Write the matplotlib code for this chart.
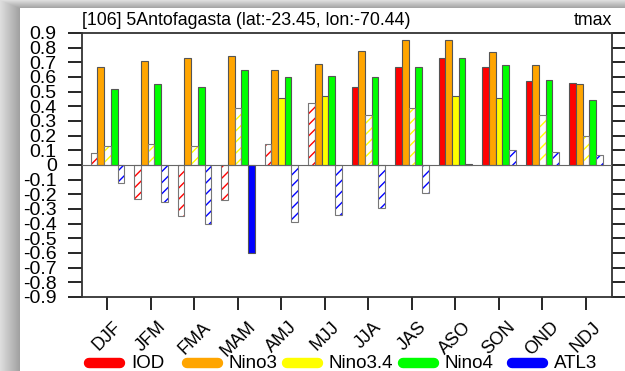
import matplotlib
matplotlib.use("Agg")
import matplotlib.pyplot as plt
import matplotlib.transforms as mtransforms
from matplotlib.lines import Line2D
import numpy as np

plt.rcParams['font.family'] = ['Liberation Sans', 'DejaVu Sans']
plt.rcParams['hatch.linewidth'] = 1.0

seasons = ['DJF', 'JFM', 'FMA', 'MAM', 'AMJ', 'MJJ', 'JJA', 'JAS', 'ASO', 'SON', 'OND', 'NDJ']
names = ['IOD', 'Nino3', 'Nino3.4', 'Nino4', 'ATL3']
colors = ['#ff0000', '#ffa500', '#ffff00', '#00ff00', '#0000ff']

# correlation values
iod = [0.08, -0.23, -0.35, -0.24, 0.14, 0.42, 0.53, 0.67, 0.73, 0.67, 0.57, 0.56]
nino3 = [0.67, 0.71, 0.73, 0.74, 0.65, 0.69, 0.78, 0.85, 0.85, 0.77, 0.68, 0.55]
nino34 = [0.13, 0.14, 0.13, 0.39, 0.46, 0.47, 0.34, 0.39, 0.47, 0.46, 0.34, 0.20]
nino4 = [0.52, 0.55, 0.53, 0.65, 0.60, 0.61, 0.60, 0.67, 0.73, 0.68, 0.58, 0.44]
atl3 = [-0.12, -0.25, -0.40, -0.60, -0.39, -0.34, -0.29, -0.19, 0.01, 0.10, 0.09, 0.07]

# 1 = significant (solid), 0 = not significant (hatched)
sig_iod = [0, 0, 0, 0, 0, 0, 1, 1, 1, 1, 1, 1]
sig_nino3 = [1] * 12
sig_nino34 = [0, 0, 0, 0, 1, 1, 0, 0, 1, 1, 0, 0]
sig_nino4 = [1] * 12
sig_atl3 = [0, 0, 0, 1, 0, 0, 0, 0, 1, 0, 0, 0]

series = [iod, nino3, nino34, nino4, atl3]
sigs = [sig_iod, sig_nino3, sig_nino34, sig_nino4, sig_atl3]

yticks = np.round(np.arange(-0.9, 0.91, 0.1), 1)

fig = plt.figure(figsize=(6.25, 3.71), dpi=100)

# paper drop shadow on left and top
H, W = 371, 625
xx, yy = np.meshgrid(np.arange(W), np.arange(H))
dl = np.clip((20 - xx) / 20.0, 0, 1)
dt = np.clip((8 - yy) / 8.0, 0, 1)
inside = (xx >= 20) & (yy >= 8)
shade = np.where(inside, 1.0, 0.62 + 0.25 * np.maximum(dl, dt))
bg = np.ones((H, W, 3)) * shade[..., None]
fig.figimage(bg, xo=0, yo=0, origin='upper', zorder=-10)

ax = fig.add_axes([0.1307, 0.1995, 0.848, 0.7116])
ax.set_facecolor('white')

x = np.arange(1, 13)
w = 0.154
for k in range(5):
    pos = x + (k - 2) * w
    vals = np.array(series[k])
    sg = np.array(sigs[k]) == 1
    ax.bar(pos[sg], vals[sg], w, color=colors[k], edgecolor='#555555', linewidth=0.8, zorder=3)
    ax.bar(pos[~sg], vals[~sg], w, facecolor='white', edgecolor=colors[k], hatch='///',
           linewidth=0, zorder=3)
    ax.bar(pos[~sg], vals[~sg], w, fill=False, edgecolor='#777777', linewidth=0.8, zorder=4)

ax.axhline(0, color='#666666', lw=0.8, zorder=5)

ax.set_xlim(0.407, 12.593)
ax.set_ylim(-0.9, 0.9)
ax.set_xticks(x)
ax.set_xticklabels(seasons, rotation=45, ha='center', va='top', fontsize=13)
shift = mtransforms.ScaledTranslation(3 / 72, -1 / 72, fig.dpi_scale_trans)
for lab in ax.get_xticklabels():
    lab.set_transform(lab.get_transform() + shift)
ax.set_yticks(yticks)
ax.set_yticklabels(['0' if v == 0 else f'{v:.1f}' for v in yticks], fontsize=14)
ax.tick_params(axis='y', which='both', direction='out', length=10, width=1.2,
               pad=8, left=True, right=True)
ax.tick_params(axis='x', direction='out', length=9.5, width=1.2, pad=6, top=False)
for s in ax.spines.values():
    s.set_linewidth(1.3)
    s.set_color('#333333')

ax.annotate('[106] 5Antofagasta (lat:-23.45, lon:-70.44)', xy=(0, 1), xycoords='axes fraction',
            xytext=(0, 3), textcoords='offset points', ha='left', va='bottom', fontsize=12.8)
ax.annotate('tmax', xy=(1, 1), xycoords='axes fraction',
            xytext=(0, 3), textcoords='offset points', ha='right', va='bottom', fontsize=12.8)

# legend along the bottom
leg_x = [89, 187, 287, 403, 512]
ly = (371 - 363) / 371
for k in range(5):
    x0 = leg_x[k] / 625
    x1 = (leg_x[k] + 31) / 625
    fig.add_artist(Line2D([x0, x1], [ly, ly], transform=fig.transFigure, color=colors[k],
                          lw=7.5, solid_capstyle='round'))
    fig.text((leg_x[k] + 42) / 625, ly, names[k], ha='left', va='center', fontsize=13.5)

fig.savefig('out.png', dpi=100)
